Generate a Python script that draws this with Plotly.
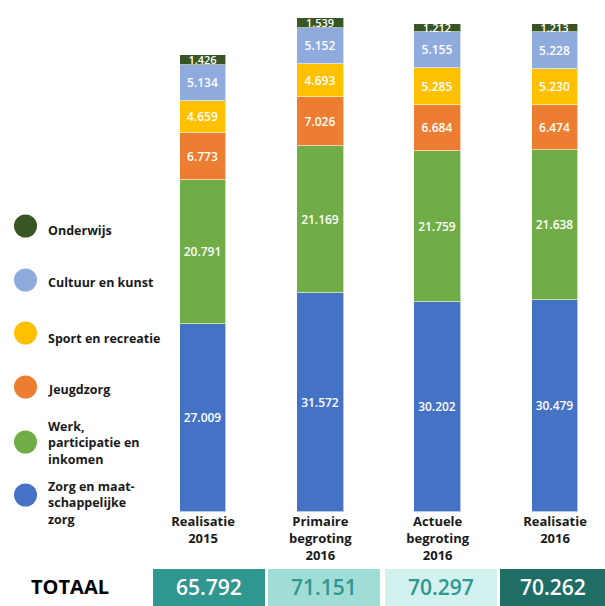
import plotly.graph_objects as go

categories = ["Realisatie<br>2015", "Primaire<br>begroting<br>2016", "Actuele<br>begroting<br>2016", "Realisatie<br>2016"]
series_names = ["Zorg en maat-<br>schappelijke<br>zorg", "Werk,<br>participatie en<br>inkomen", "Jeugdzorg",
                "Sport en recreatie", "Cultuur en kunst", "Onderwijs"]
zorg = [27009, 31572, 30202, 30479]
werk = [20791, 21169, 21759, 21638]
jeugdzorg = [6773, 7026, 6684, 6474]
sport = [4659, 4693, 5285, 5230]
cultuur = [5134, 5152, 5155, 5228]
onderwijs = [1426, 1539, 1212, 1213]
totals = [65792, 71151, 70297, 70262]

series_values = [zorg, werk, jeugdzorg, sport, cultuur, onderwijs]
colors = ["#4472c4", "#70ad47", "#ed7d31", "#ffc000", "#8faadc", "#375623"]
label_sizes = [12, 12, 12, 12, 12, 11]

W, H = 605, 606
MT, MB = 10, 94
PH = H - MT - MB
FONT = "Open Sans"


def fmt(v):
    return f"{v:,}".replace(",", ".")


def px(x):
    return x / W


def py(y):
    return (H - MB - y) / PH


fig = go.Figure()
xs = list(range(len(categories)))
for name, vals, col, ls in zip(series_names, series_values, colors, label_sizes):
    fig.add_trace(go.Bar(
        x=xs, y=vals, name=name, width=0.40,
        marker=dict(color=col, line=dict(color="rgba(255,255,255,0.6)", width=1)),
        text=[fmt(v) for v in vals], textposition="inside", insidetextanchor="middle",
        constraintext="none", textangle=0,
        textfont=dict(family=FONT, size=ls, color="white", weight=600),
        cliponaxis=False, showlegend=False, hoverinfo="skip",
    ))

shapes = []
annotations = []
# legend (top to bottom)
legend_items = [
    (5, 226, 230), (4, 280, 282), (3, 333, 338), (2, 387, 389), (1, 442, 443), (0, 495, 503),
]
for idx, cy, ty in legend_items:
    shapes.append(dict(type="circle", xref="paper", yref="paper",
                       x0=px(14), x1=px(37), y0=py(cy + 11.5), y1=py(cy - 11.5),
                       fillcolor=colors[idx], line=dict(width=0)))
    annotations.append(dict(xref="paper", yref="paper", x=px(46), y=py(ty), xanchor="left", yanchor="middle",
                            align="left", showarrow=False, text=series_names[idx],
                            font=dict(family=FONT, size=12.5, color="#1a1a1a", weight="bold")))

# totals
annotations.append(dict(xref="paper", yref="paper", x=px(70), y=py(586), xanchor="center", yanchor="middle",
                        showarrow=False, text="TOTAAL",
                        font=dict(family=FONT, size=20, color="black", weight="bold")))
box_centers = [209, 324, 441, 552.5]
box_widths = [112, 112, 112, 105]
box_bg = ["#2f9690", "#a0ddd6", "#d3f1ee", "#1f6e66"]
box_fg = ["white", "#2f9690", "#2f9690", "white"]
for c, w, bg, fg, t in zip(box_centers, box_widths, box_bg, box_fg, totals):
    shapes.append(dict(type="rect", xref="paper", yref="paper", x0=px(c - w / 2), x1=px(c + w / 2),
                       y0=py(606), y1=py(569), fillcolor=bg, line=dict(width=0)))
    annotations.append(dict(xref="paper", yref="paper", x=px(c), y=py(587), xanchor="center", yanchor="middle",
                            showarrow=False, text=fmt(t),
                            font=dict(family=FONT, size=21, color=fg, weight=600)))

fig.update_layout(
    width=W, height=H, barmode="stack", bargap=0,
    margin=dict(l=0, r=0, t=MT, b=MB),
    paper_bgcolor="white", plot_bgcolor="white",
    separators=",.",
    xaxis=dict(range=[-1.730, 3.426], tickvals=xs, ticktext=["<b>" + c + "</b>" for c in categories],
               tickfont=dict(family=FONT, size=13, color="#1a1a1a"), showgrid=False, zeroline=False,
               showline=False, ticks=""),
    yaxis=dict(range=[0, 72270], visible=False),
    shapes=shapes, annotations=annotations,
)
fig.write_html("out.html", config={"displayModeBar": False},
               post_script="document.body.style.margin='0';document.body.style.overflow='hidden';")
